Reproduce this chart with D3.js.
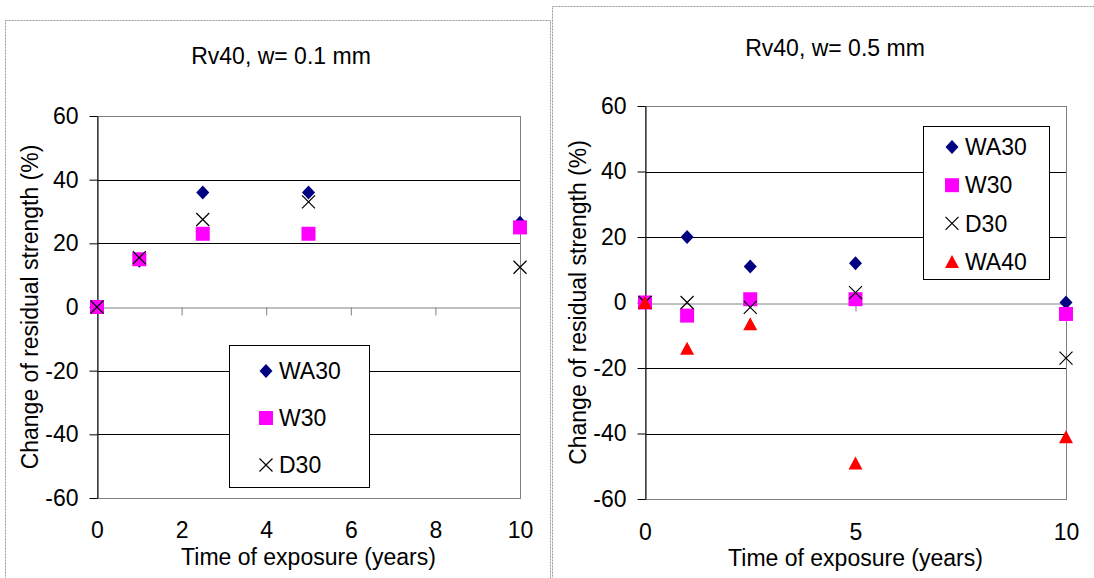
<!DOCTYPE html>
<html>
<head>
<meta charset="utf-8">
<script src="https://cdn.jsdelivr.net/npm/d3@7"></script>
<style>
  body { margin: 0; background: #fff; }
  text { font-family: "Liberation Sans", Arial, sans-serif; font-size: 23px; fill: #000; }
</style>
</head>
<body>
<svg id="chart" width="1094" height="578"></svg>
<script>
// values
const years = [0, 1, 2.5, 5, 10];

// Rv40, w= 0.1 mm
const wa30_01 = [0, 14.5, 36, 36, 26.5];
const w30_01  = [0, 15, 23, 23, 25];
const d30_01  = [0, 15.5, 27.5, 33, 12.5];

// Rv40, w= 0.5 mm
const wa30_05 = [0, 20, 11, 12, 0];
const w30_05  = [0, -4, 1, 1, -3.5];
const d30_05  = [0, 0, -1.5, 3, -17];
const wa40_05 = [0, -14, -6.5, -49, -41];

const yTicks = [-60, -40, -20, 0, 20, 40, 60];
const xTicks01 = [0, 2, 4, 6, 8, 10];
const xTicks05 = [0, 5, 10];

const svg = d3.select("#chart");

// marker shapes, centred on 0,0
const markers = {
  diamond:  { fill: "#000080", stroke: "none", d: "M0,-7L6.5,0L0,7L-6.5,0Z" },
  square:   { fill: "#ff00ff", stroke: "none", d: "M-7,-7H7V7H-7Z" },
  cross:    { fill: "none", stroke: "#000", d: "M-6.5,-6.5L6.5,6.5M6.5,-6.5L-6.5,6.5" },
  triangle: { fill: "#ff0000", stroke: "none", d: "M0,-6.5L7,6.5L-7,6.5Z" }
};

function drawMarker(g, type, x, y) {
  const m = markers[type];
  g.append("path")
    .attr("d", m.d)
    .attr("transform", `translate(${x},${y})`)
    .attr("fill", m.fill)
    .attr("stroke", m.stroke)
    .attr("stroke-width", 1.2);
}

function panel(cfg) {
  const g = svg.append("g");

  // dotted frame of the chart object
  g.append("rect")
    .attr("x", cfg.frame[0] + 0.5).attr("y", cfg.frame[1] + 0.5)
    .attr("width", cfg.frame[2]).attr("height", cfg.frame[3])
    .attr("fill", "none").attr("stroke", "#999").attr("stroke-dasharray", "2,1");

  const x = d3.scaleLinear().domain([0, 10]).range([cfg.left, cfg.right]);
  const y = d3.scaleLinear().domain([-60, 60]).range([cfg.bottom, cfg.top]);

  // gridlines
  g.selectAll(".grid")
    .data(yTicks.filter(v => v !== 0 && Math.abs(v) !== 60))
    .join("line")
    .attr("x1", cfg.left).attr("x2", cfg.right)
    .attr("y1", d => Math.round(y(d)) + 0.5).attr("y2", d => Math.round(y(d)) + 0.5)
    .attr("stroke", "#000");

  // plot area border
  g.append("rect")
    .attr("x", cfg.left + 0.5).attr("y", Math.round(cfg.top) + 0.5)
    .attr("width", cfg.right - cfg.left).attr("height", cfg.bottom - cfg.top)
    .attr("fill", "none").attr("stroke", "#808080");

  // x axis crossing at 0
  const xa = g.append("g")
    .attr("transform", `translate(0,${Math.round(y(0)) + 0.5})`)
    .call(d3.axisBottom(x).tickValues(cfg.xTicks).tickSize(8).tickSizeOuter(0).tickFormat(""));
  xa.select(".domain").attr("stroke", "#808080");
  xa.selectAll(".tick line").attr("stroke", "#808080");

  // x tick labels sit at the bottom
  const xl = g.append("g")
    .attr("transform", `translate(0,${cfg.bottom})`)
    .call(d3.axisBottom(x).tickValues(cfg.xTicks).tickSize(0).tickPadding(cfg.xPad));
  xl.select(".domain").remove();
  xl.attr("font-size", null).attr("font-family", null);

  // y axis, plain hyphen for negatives
  const ya = g.append("g")
    .attr("transform", `translate(${cfg.left + 0.5},0)`)
    .call(d3.axisLeft(y).tickValues(yTicks).tickSize(8).tickSizeOuter(0).tickPadding(11)
      .tickFormat(d => String(d)));
  ya.attr("font-size", null).attr("font-family", null);
  ya.select(".domain").attr("stroke", "#000");

  // titles
  g.append("text")
    .attr("x", cfg.titleX).attr("y", cfg.titleY)
    .attr("text-anchor", "middle")
    .text(cfg.title);
  g.append("text")
    .attr("x", (cfg.left + cfg.right) / 2).attr("y", cfg.bottom + 67)
    .attr("text-anchor", "middle")
    .text("Time of exposure (years)");
  g.append("text")
    .attr("transform", `translate(${cfg.left - 59},${(cfg.top + cfg.bottom) / 2}) rotate(-90)`)
    .attr("text-anchor", "middle")
    .text("Change of residual strength (%)");

  // points, series in drawing order
  cfg.series.forEach(s => {
    s.values.forEach((v, i) => drawMarker(g, s.marker, x(years[i]), y(v)));
  });

  // legend
  const lg = g.append("g");
  lg.append("rect")
    .attr("x", cfg.legend.x + 0.5).attr("y", cfg.legend.y + 0.5)
    .attr("width", cfg.legend.w).attr("height", cfg.legend.h)
    .attr("fill", "#fff").attr("stroke", "#000");
  cfg.series.forEach((s, i) => {
    const ly = cfg.legend.firstY + i * cfg.legend.step;
    drawMarker(lg, s.marker, cfg.legend.mx, ly);
    lg.append("text")
      .attr("x", cfg.legend.mx + 13).attr("y", ly)
      .attr("dy", "0.36em")
      .text(s.name);
  });
}

panel({
  frame: [5, 20, 545, 600],
  left: 97, right: 520, top: 116, bottom: 498,
  xTicks: xTicks01, xPad: 24,
  title: "Rv40, w= 0.1 mm", titleX: 281, titleY: 64,
  series: [
    { name: "WA30", values: wa30_01, marker: "diamond" },
    { name: "W30",  values: w30_01,  marker: "square" },
    { name: "D30",  values: d30_01,  marker: "cross" }
  ],
  legend: { x: 229, y: 345, w: 140, h: 142, mx: 266, firstY: 371, step: 47 }
});

panel({
  frame: [552, 6, 600, 600],
  left: 645, right: 1066, top: 106, bottom: 499,
  xTicks: xTicks05, xPad: 25,
  title: "Rv40, w= 0.5 mm", titleX: 835, titleY: 56,
  series: [
    { name: "WA30", values: wa30_05, marker: "diamond" },
    { name: "W30",  values: w30_05,  marker: "square" },
    { name: "D30",  values: d30_05,  marker: "cross" },
    { name: "WA40", values: wa40_05, marker: "triangle" }
  ],
  legend: { x: 923, y: 126, w: 126, h: 153, mx: 952, firstY: 147, step: 38.2 }
});
</script>
</body>
</html>
